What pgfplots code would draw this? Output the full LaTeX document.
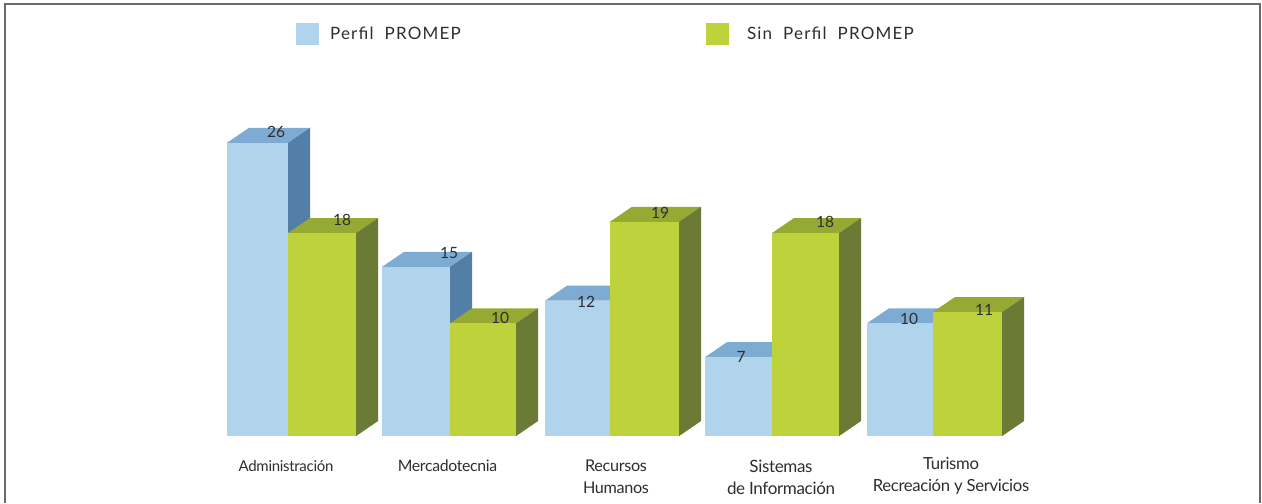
\documentclass[border=0pt]{standalone}
\usepackage{pgfplots}
\pgfplotsset{compat=1.18}
\usepackage{fontspec}
\setmainfont{Lato}
\definecolor{txt}{HTML}{2E2E2E}
\definecolor{frame}{HTML}{6A6A6A}
\definecolor{bF}{HTML}{AFD4EC}
\definecolor{bT}{HTML}{7DABD2}
\definecolor{bS}{HTML}{537FA6}
\definecolor{gF}{HTML}{BDD23B}
\definecolor{gT}{HTML}{96A932}
\definecolor{gS}{HTML}{6B7B36}
% #1 left edge, #2 right edge, #3 value, #4 width, #5 front, #6 top, #7 side
\newcommand{\barThreeD}[7]{%
  \addplot[fill=#6,draw=none,forget plot] coordinates {(#1,#3)(#1+22,#3+1.33)(#2+22,#3+1.33)(#2,#3)} -- cycle;
  \addplot[fill=#7,draw=none,forget plot] coordinates {(#2,0)(#2+22,1.33)(#2+22,#3+1.33)(#2,#3)} -- cycle;
  \addplot[ybar,bar width=#4,bar shift=0pt,fill=#5,draw=none,forget plot] coordinates {(#1/2+#2/2,#3)};
}
\newcommand{\fs}[1]{\fontsize{#1}{22}\selectfont\addfontfeatures{LetterSpace=-2}}
\begin{document}
\begin{tikzpicture}
\begin{axis}[
  scale only axis, width=1262pt, height=436pt,
  xmin=0, xmax=1262, ymin=0, ymax=38.652,
  clip=false,
  axis line style={draw=none},
  major tick length=0pt,
  ytick=\empty,
  xtick={286,447.5,616,781},
  xticklabels={Administración,{\fs{15.8}Mercadotecnia},{\fs{16.2}Recursos\\\fs{16.2}Humanos},{\fs{17}Sistemas\\\fs{17}de Información}},
  extra x ticks={951},
  extra x tick labels={{\fs{16.7}Turismo\\\fs{16.7}Recreación y Servicios}},
  extra x tick style={xticklabel style={yshift=3pt}},
  xticklabel style={align=center,yshift=-20.5pt,text=txt,
    font=\fs{15}},
  legend columns=2,
  legend cell align=left,
  legend style={at={(0.2322,0.9222)},anchor=west,draw=none,fill=none,
    font=\fontsize{17}{18}\selectfont\addfontfeatures{LetterSpace=7},text=txt,
    /tikz/every even column/.append style={column sep=0pt},
    /tikz/every odd column/.append style={column sep=0pt}},
  legend image code/.code={\fill[#1] (0pt,-10.5pt) rectangle (21.5pt,10.5pt);},
]
\addlegendimage{bF}
\addlegendentry{\makebox[384pt][l]{\hspace{10pt}Perfil\ \ PROMEP}}
\addlegendimage{gF}
\addlegendentry{\hspace{17pt}Sin\ \ Perfil\ \ PROMEP}
% Perfil PROMEP
\barThreeD{227}{288}{26}{61}{bF}{bT}{bS}
\barThreeD{382}{450}{15}{68}{bF}{bT}{bS}
\barThreeD{545}{610}{12}{65}{bF}{bT}{bS}
\barThreeD{705}{772}{7}{67}{bF}{bT}{bS}
\barThreeD{867}{933}{10}{66}{bF}{bT}{bS}
% Sin Perfil PROMEP
\barThreeD{288}{356}{18}{68}{gF}{gT}{gS}
\barThreeD{450}{516}{10}{66}{gF}{gT}{gS}
\barThreeD{610}{679}{19}{69}{gF}{gT}{gS}
\barThreeD{772}{839}{18}{67}{gF}{gT}{gS}
\barThreeD{933}{1002}{11}{69}{gF}{gT}{gS}
% value labels
\addplot[draw=none,forget plot,point meta=explicit symbolic,
  nodes near coords,
  every node near coord/.style={anchor=center,text=txt,font=\fontsize{15.5}{18}\selectfont}]
  coordinates {(276,26.95)[26] (342,19.15)[18] (449,16.2)[15] (500,10.45)[10]
    (586,11.87)[12] (660,19.8)[19] (741,7.0)[7] (825,19.0)[18] (909,10.36)[10] (984,11.17)[11]};
% frame
\draw[frame,line width=1.6pt] (axis cs:5,-5.94) -- (axis cs:5,38.3) -- (axis cs:1260,38.3) -- (axis cs:1260,-5.94);
\path (axis cs:0,-5.94) rectangle (axis cs:1262,38.652);
\end{axis}
\end{tikzpicture}
\end{document}
